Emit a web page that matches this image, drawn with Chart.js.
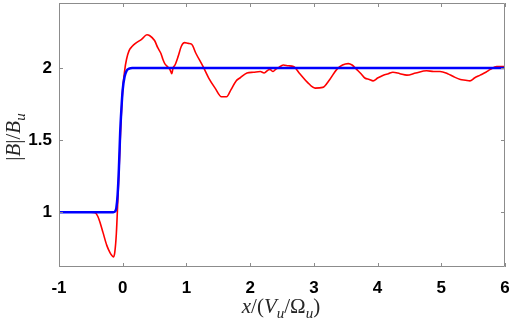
<!DOCTYPE html>
<html>
<head>
<meta charset="utf-8">
<script src="https://cdn.jsdelivr.net/npm/chart.js@4/dist/chart.umd.min.js"></script>
<style>
  body { margin: 0; background: #fff; }
  #wrap { width: 510px; height: 322px; }
</style>
</head>
<body>
<div id="wrap"><canvas id="bChart" width="510" height="322"></canvas></div>
<script>
// simulated |B| profile (red) and fitted step (blue)
const redX = [-1, -0.7, -0.5, -0.43, -0.39, -0.35, -0.31, -0.25, -0.2, -0.17, -0.147, -0.125, -0.1, -0.075, -0.05, -0.025,
  0, 0.03, 0.06, 0.1, 0.15, 0.2, 0.3, 0.38, 0.42, 0.5, 0.55, 0.6, 0.63, 0.66, 0.7, 0.74, 0.77, 0.79, 0.82, 0.87,
  0.92, 0.97, 1.03, 1.08, 1.15, 1.26, 1.35, 1.45, 1.55, 1.63, 1.7, 1.78, 1.84, 1.95, 2.05, 2.16, 2.22, 2.28, 2.31,
  2.36, 2.4, 2.44, 2.52, 2.6, 2.68, 2.78, 2.9, 3.02, 3.14, 3.25, 3.36, 3.45, 3.54, 3.6, 3.67, 3.74, 3.8, 3.87,
  3.93, 4.0, 4.09, 4.17, 4.24, 4.35, 4.46, 4.6, 4.77, 4.88, 4.98, 5.1, 5.19, 5.3, 5.38, 5.45, 5.52, 5.61, 5.7,
  5.77, 5.87, 5.95, 6];
const redY = [1, 1, 1, 0.995, 0.97, 0.92, 0.86, 0.77, 0.72, 0.7, 0.69, 0.72, 0.85, 1.1, 1.38, 1.65,
  1.85, 1.98, 2.06, 2.12, 2.15, 2.17, 2.2, 2.23, 2.225, 2.19, 2.14, 2.1, 2.06, 2.03, 2.01, 1.99, 1.96, 2, 2.02, 2.08,
  2.15, 2.175, 2.17, 2.165, 2.1, 2.01, 1.93, 1.86, 1.8, 1.8, 1.85, 1.91, 1.93, 1.965, 1.97, 1.975, 1.965, 1.985, 1.99,
  1.975, 1.99, 2, 2.02, 2.015, 2.01, 1.96, 1.9, 1.86, 1.865, 1.92, 1.99, 2.02, 2.03, 2.02, 1.99, 1.96, 1.93, 1.92,
  1.91, 1.93, 1.95, 1.96, 1.97, 1.96, 1.95, 1.965, 1.98, 1.975, 1.975, 1.96, 1.94, 1.92, 1.915, 1.91, 1.93, 1.95, 1.97,
  1.99, 2.01, 2.01, 2.01];

const blueX = [-1, -0.5, -0.15, -0.12, -0.1, -0.08, -0.06, -0.04, -0.02, 0, 0.03, 0.06, 0.1, 0.15, 6];
const blueY = [1, 1, 1, 1.005, 1.03, 1.12, 1.3, 1.55, 1.72, 1.85, 1.94, 1.98, 1.995, 2, 2];

const xTicks = [-1, 0, 1, 2, 3, 4, 5, 6];
const yTicks = [1, 1.5, 2];

const toPoints = (xs, ys) => xs.map((x, i) => ({ x: x, y: ys[i] }));

// kill the automatic label padding so the plot box sits where we want it
const noPad = s => { s.paddingLeft = 0; s.paddingRight = 0; s.paddingTop = 0; s.paddingBottom = 0; };

// box around the plot with inward ticks on all four sides (MATLAB look)
const boxTicks = {
    id: 'boxTicks',
    afterDraw(chart) {
        const { ctx, chartArea: a, scales } = chart;
        const len = 4;
        ctx.save();
        ctx.strokeStyle = '#8c8c8c';
        ctx.lineWidth = 1;
        ctx.beginPath();
        ctx.rect(a.left + 0.5, a.top + 0.5, a.right - a.left - 1, a.bottom - a.top - 1);
        xTicks.forEach(v => {
            const px = Math.round(scales.x.getPixelForValue(v)) + 0.5;
            ctx.moveTo(px, a.bottom); ctx.lineTo(px, a.bottom - len);
            ctx.moveTo(px, a.top); ctx.lineTo(px, a.top + len);
        });
        yTicks.forEach(v => {
            const py = Math.round(scales.y.getPixelForValue(v)) + 0.5;
            ctx.moveTo(a.left, py); ctx.lineTo(a.left + len, py);
            ctx.moveTo(a.right, py); ctx.lineTo(a.right - len, py);
        });
        ctx.stroke();
        ctx.restore();
    }
};

// latex-ish axis titles, pieces: [text, subscript?, italic?]
function drawPieces(ctx, pieces, cx, cy, size) {
    const fam = '"Liberation Serif", serif';
    const fontOf = p => (p[2] ? 'italic ' : '') + (p[1] ? Math.round(size * 0.7) : size) + 'px ' + fam;
    let total = 0;
    pieces.forEach(p => { ctx.font = fontOf(p); total += ctx.measureText(p[0]).width; });
    let x = cx - total / 2;
    ctx.textBaseline = 'alphabetic';
    ctx.textAlign = 'left';
    pieces.forEach(p => {
        ctx.font = fontOf(p);
        ctx.fillText(p[0], x, cy + (p[1] ? size * 0.22 : 0));
        x += ctx.measureText(p[0]).width;
    });
}

const axisTitles = {
    id: 'axisTitles',
    afterDraw(chart) {
        const ctx = chart.ctx;
        ctx.save();
        ctx.fillStyle = '#262626';
        drawPieces(ctx, [['x', false, true], ['/(', false, false], ['V', false, true], ['u', true, true],
            ['/Ω', false, false], ['u', true, true], [')', false, false]], 281, 313, 21);
        ctx.translate(20, 137);
        ctx.rotate(-Math.PI / 2);
        drawPieces(ctx, [['|', false, false], ['B', false, true], ['|/', false, false], ['B', false, true],
            ['u', true, true]], 0, 0, 21);
        ctx.restore();
    }
};

const tickFont = { family: '"Liberation Sans", Arial, sans-serif', size: 17, weight: 'bold' };

const chart = new Chart(document.getElementById('bChart'), {
    type: 'line',
    data: {
        datasets: [
            {
                data: toPoints(blueX, blueY),
                borderColor: '#0000ff',
                borderWidth: 2.5,
                pointRadius: 0,
                cubicInterpolationMode: 'monotone',
                order: 0
            },
            {
                data: toPoints(redX, redY),
                borderColor: '#ff0000',
                borderWidth: 1.6,
                pointRadius: 0,
                cubicInterpolationMode: 'monotone',
                order: 1
            }
        ]
    },
    options: {
        responsive: false,
        animation: false,
        layout: { padding: { top: 3, right: 5, left: 0, bottom: 0 } },
        plugins: { legend: { display: false }, tooltip: { enabled: false } },
        scales: {
            x: {
                type: 'linear',
                min: -1,
                max: 6,
                grid: { display: false, drawTicks: false, tickLength: 0 },
                border: { display: false },
                afterBuildTicks: s => { s.ticks = xTicks.map(v => ({ value: v })); },
                afterFit: s => { s.height = 55; noPad(s); },
                ticks: { padding: 11, color: '#000', maxRotation: 0, callback: v => String(v), font: tickFont }
            },
            y: {
                min: 0.62,
                max: 2.45,
                grid: { display: false, drawTicks: false, tickLength: 0 },
                border: { display: false },
                afterBuildTicks: s => { s.ticks = yTicks.map(v => ({ value: v })); },
                afterFit: s => { s.width = 59; noPad(s); },
                ticks: { padding: 7, color: '#000', callback: v => String(v), font: tickFont }
            }
        }
    },
    plugins: [boxTicks, axisTitles]
});
</script>
</body>
</html>
